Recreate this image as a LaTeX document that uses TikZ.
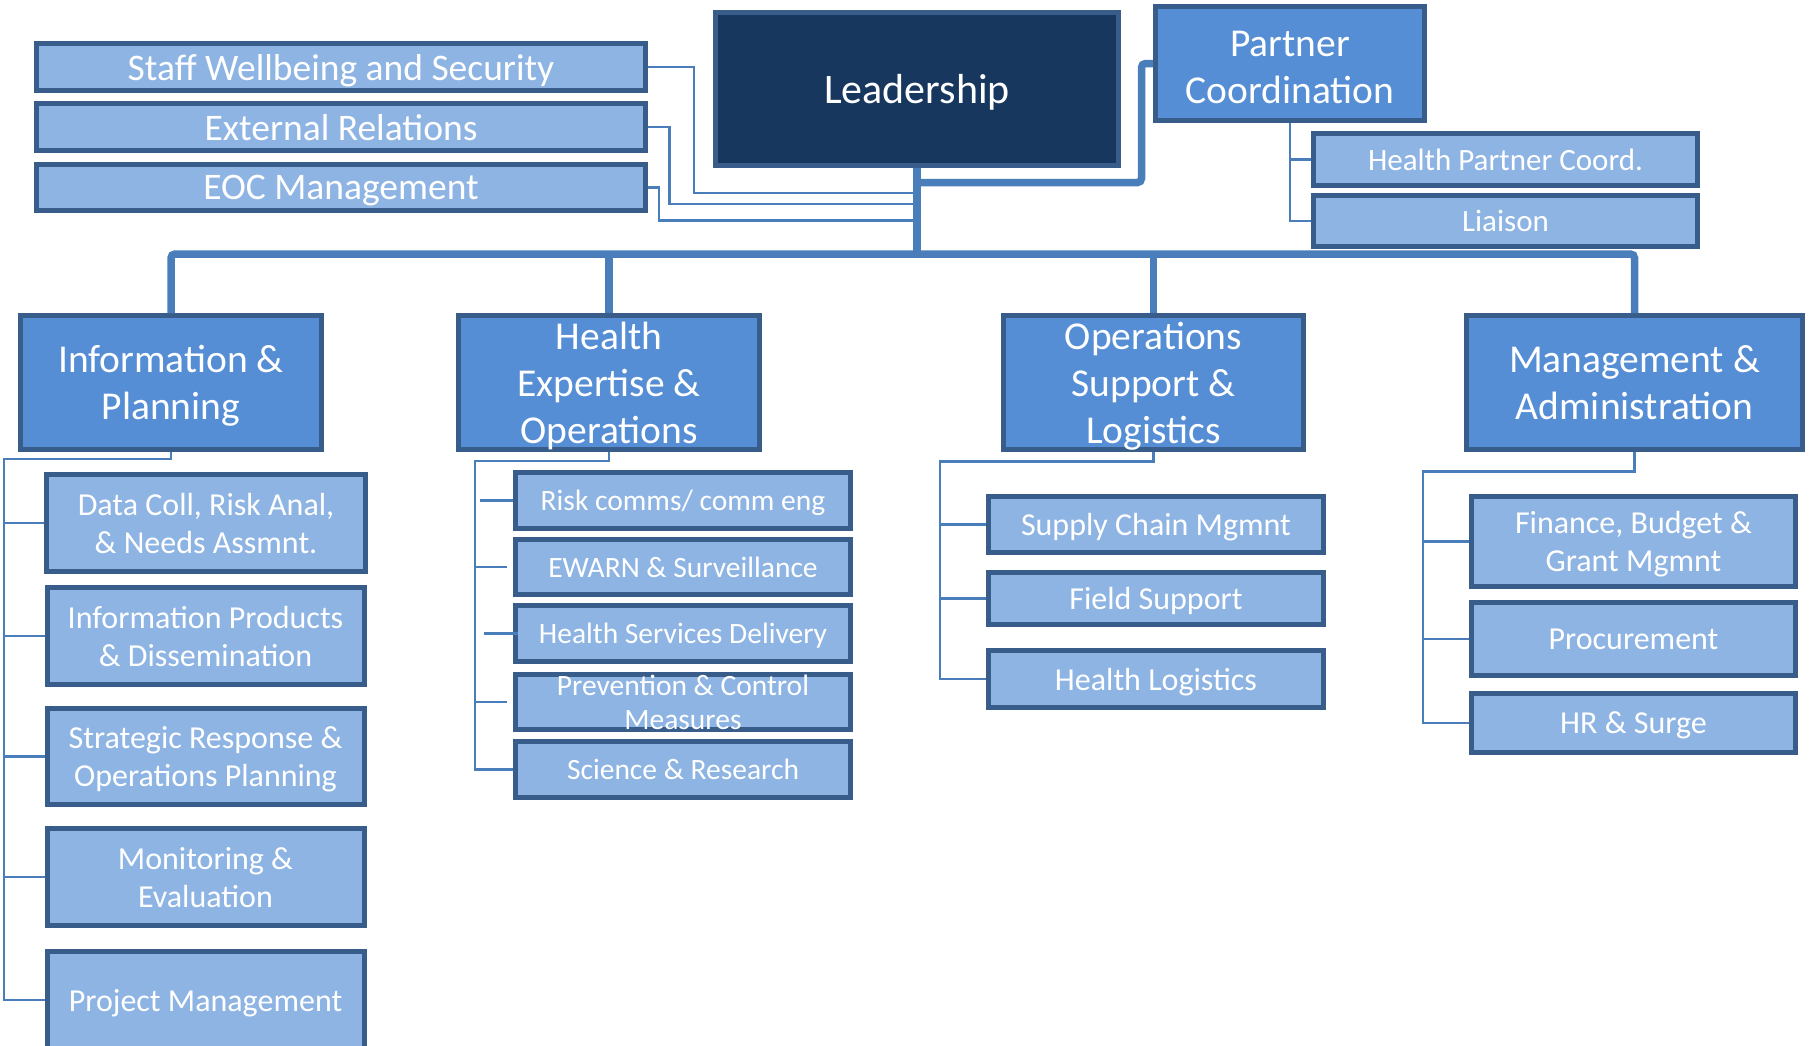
\documentclass[tikz,border=0pt]{standalone}
\usepackage{fontspec}
\setmainfont{Carlito}

\definecolor{leadnavy}{RGB}{23,55,94}
\definecolor{edgeblue}{RGB}{56,93,138}
\definecolor{unitblue}{RGB}{85,142,213}
\definecolor{teamblue}{RGB}{142,180,227}
\definecolor{linkblue}{RGB}{74,126,187}

% two-line label that may run over its box
\newcommand{\overrun}[1]{\smash{\raisebox{-10pt}{\begin{tabular}{@{}c@{}}#1\end{tabular}}}}

\tikzset{
  box/.style={draw=edgeblue, line width=5pt, text=white, inner sep=0pt, align=center, text depth=0pt},
  sized/.style 2 args={minimum width=#1pt, minimum height=#2pt},
  leadbox/.style={box, fill=leadnavy, font=\fontsize{42}{50}\selectfont},
  unitbox/.style={box, fill=unitblue, font=\fontsize{39.5}{47}\selectfont},
  teambox/.style={box, fill=teamblue, font=\fontsize{32}{38}\selectfont},
  bus/.style={draw=linkblue, line width=7.5pt, rounded corners=4pt},
  link/.style={draw=linkblue, line width=2.4pt},
}

\begin{document}
\begin{tikzpicture}[x=1pt, y=-1pt]
        \useasboundingbox (0,0) rectangle (1810,1045);

        % leadership, staff offices and partners
        \node[leadbox, sized={403}{153}] (lead) at (917,89) {Leadership};
        \node[teambox, sized={609}{47}, font=\fontsize{37.5}{45}\selectfont] (staff) at (341,67) {Staff Wellbeing and Security};
        \node[teambox, sized={609}{47}, font=\fontsize{37.5}{45}\selectfont] (extrel) at (341,127) {External Relations};
        \node[teambox, sized={609}{46}, font=\fontsize{37.5}{45}\selectfont] (eoc) at (341,187.5) {EOC Management};

        \node[unitbox, sized={269}{114}, text height=80pt] (partner) at (1290,63.5) {Partner\\Coordination};
        \node[teambox, sized={384}{52}, font=\fontsize{31}{37}\selectfont] (hpc) at (1505.5,159.5) {Health Partner Coord.};
        \node[teambox, sized={384}{51}, font=\fontsize{31}{37}\selectfont] (liaison) at (1505.5,221) {Liaison};

        % the four pillars
        \node[unitbox, sized={301}{134}] (info) at (171,382.5) {Information \&\\Planning};
        \node[unitbox, sized={301}{134}] (health) at (609,382.5) {Health\\Expertise \&\\Operations};
        \node[unitbox, sized={300}{134}] (ops) at (1153.5,382.5) {Operations\\Support \&\\Logistics};
        \node[unitbox, sized={336}{134}] (mgmt) at (1634.5,382.5) {Management \&\\Administration};

        % information & planning teams
        \node[teambox, sized={319}{97}] (datacoll) at (206,523) {Data Coll, Risk Anal,\\\& Needs Assmnt.};
        \node[teambox, sized={317}{97}] (infoprod) at (205.5,636) {Information Products\\\& Dissemination};
        \node[teambox, sized={317}{96}] (strat) at (205.5,756.5) {Strategic Response \&\\Operations Planning};
        \node[teambox, sized={317}{97}] (monit) at (205.5,877) {Monitoring \&\\Evaluation};
        \node[teambox, sized={317}{97}] (projmgmt) at (205.5,1000) {Project Management};

        % health expertise teams
        \node[teambox, sized={335}{56}, font=\fontsize{29.5}{34}\selectfont] (risk) at (683,500.5) {Risk comms/ comm eng};
        \node[teambox, sized={335}{55}, font=\fontsize{29.5}{34}\selectfont] (ewarn) at (683,567) {EWARN \& Surveillance};
        \node[teambox, sized={335}{56}, font=\fontsize{29.5}{34}\selectfont] (hsd) at (683,633.5) {Health Services Delivery};
        \node[teambox, sized={335}{55}, font=\fontsize{29.5}{34}\selectfont] (prev) at (683,702) {\overrun{Prevention \& Control\\Measures}};
        \node[teambox, sized={335}{56}, font=\fontsize{29.5}{34}\selectfont] (sci) at (683,769.5) {Science \& Research};

        % operations support teams
        \node[teambox, sized={335}{56}] (supply) at (1156,524.5) {Supply Chain Mgmnt};
        \node[teambox, sized={335}{52}] (field) at (1156,598.5) {Field Support};
        \node[teambox, sized={335}{57}] (hlog) at (1156,679) {Health Logistics};

        % management teams
        \node[teambox, sized={324}{90}] (finance) at (1633.5,541.5) {Finance, Budget \&\\Grant Mgmnt};
        \node[teambox, sized={324}{73}] (procure) at (1633.5,639) {Procurement};
        \node[teambox, sized={324}{59}] (hr) at (1633.5,723) {HR \& Surge};

        % trunk and bus
        \coordinate (bus) at (917,254);
        \draw[bus] (lead.south) -- (bus);
        \draw[bus] (info.north) |- (bus) -| (mgmt.north);
        \draw[bus] (health.north) -- (health.north |- bus);
        \draw[bus] (ops.north) -- (ops.north |- bus);
        \draw[bus] (lead.south |- 0,182.5) -| ([xshift=-11.5pt]partner.west) -- (partner.west);

        % staff offices into the trunk
        \draw[link] (staff.east) -- ++(46,0) |- (lead.south |- 0,193);
        \draw[link] (extrel.east) -- ++(21.5,0) |- (lead.south |- 0,204);
        \draw[link] (eoc.east) -- ++(11,0) |- (lead.south |- 0,220.5);

        \draw[link] (partner.south) |- (hpc.west);
        \draw[link] (partner.south) |- (liaison.west);

        % spines under each pillar
        \coordinate (infospine) at (4,459);
        \draw[link] (info.south) |- (infospine) |- (projmgmt.west);
        \foreach \team in {datacoll,infoprod,strat,monit}
            \draw[link] (infospine |- \team.west) -- (\team.west);

        \coordinate (healthspine) at (475,461);
        \draw[link] (health.south) |- (healthspine) |- (sci.west);
        \foreach \team/\s/\e in {risk/5/0,ewarn/0/-6,hsd/9/5,prev/0/-6}
            \draw[link] (healthspine |- \team.west) ++(\s,0) -- ([xshift=\e pt]\team.west);

        \coordinate (opsspine) at (940,461.5);
        \draw[link] (ops.south) |- (opsspine) |- (hlog.west);
        \foreach \team in {supply,field}
            \draw[link] (opsspine |- \team.west) -- (\team.west);

        \coordinate (mgmtspine) at (1423,471.5);
        \draw[link] (mgmt.south) |- (mgmtspine) |- (hr.west);
        \foreach \team in {finance,procure}
            \draw[link] (mgmtspine |- \team.west) -- (\team.west);

    \end{tikzpicture}
\end{document}
